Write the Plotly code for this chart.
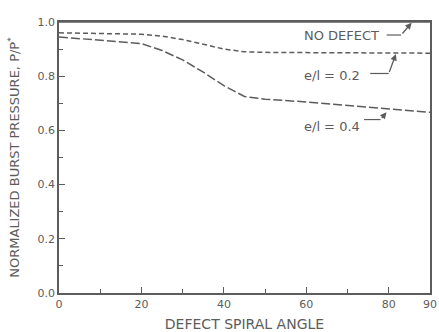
import plotly.graph_objects as go

# Data
angle_nodef = [0, 90]
p_nodef = [1.0, 1.0]

angle_02 = [0, 10, 20, 25, 30, 35, 40, 45, 50, 60, 70, 80, 90]
p_02 = [0.960, 0.958, 0.955, 0.948, 0.935, 0.918, 0.900, 0.890, 0.888, 0.887, 0.886, 0.886, 0.885]

angle_04 = [0, 10, 20, 25, 30, 35, 40, 45, 50, 60, 70, 80, 90]
p_04 = [0.945, 0.932, 0.920, 0.895, 0.860, 0.815, 0.765, 0.725, 0.715, 0.705, 0.693, 0.680, 0.667]

x_ticks = [0, 20, 40, 60, 80, 90]
x_minor = [10, 30, 50, 70]
y_ticks = [0.0, 0.2, 0.4, 0.6, 0.8, 1.0]
y_tick_text = ["0.0", "0.2", "0.4", "0.6", "0.8", "1.0"]

labels = ["NO DEFECT", "e/l = 0.2", "e/l = 0.4"]
label_x = [59.0, 59.0, 59.0]
label_y = [0.952, 0.804, 0.616]
dash_y = [0.952, 0.81, 0.64]
label_end_x = [79.5, 75.5, 74.0]
hook_x = [83.0, 80.0, 78.0]
target_x = [85.7, 81.8, 79.6]
target_y = [1.0, 0.885, 0.670]

ink = "#5c5c5c"
font = "DejaVu Sans"

fig = go.Figure()
fig.add_trace(go.Scatter(x=angle_nodef, y=p_nodef, mode="lines",
                         line=dict(color=ink, width=1.5), showlegend=False))
fig.add_trace(go.Scatter(x=angle_02, y=p_02, mode="lines",
                         line=dict(color=ink, width=1.5, dash="5px,3px"), showlegend=False))
fig.add_trace(go.Scatter(x=angle_04, y=p_04, mode="lines",
                         line=dict(color=ink, width=1.5, dash="9px,3px"), showlegend=False))

annotations = []
shapes = []
for t, lx, ly, dy, ex, hx, tx, ty in zip(labels, label_x, label_y, dash_y, label_end_x,
                                          hook_x, target_x, target_y):
    annotations.append(dict(x=lx, y=ly, xref="x", yref="y", text=t, showarrow=False,
                            xanchor="left", yanchor="middle",
                            font=dict(family=font, size=13, color=ink)))
    shapes.append(dict(type="line", xref="x", yref="y", x0=ex, x1=hx, y0=dy, y1=dy,
                       line=dict(color=ink, width=1.2)))
    annotations.append(dict(x=tx, y=ty, xref="x", yref="y", ax=hx, ay=dy, axref="x", ayref="y",
                            text="", showarrow=True, arrowhead=2, arrowsize=1, arrowwidth=1.3,
                            arrowcolor=ink, standoff=1))

fig.update_layout(
    width=439, height=332,
    margin=dict(l=59, r=9, t=22, b=39, autoexpand=False),
    paper_bgcolor="white", plot_bgcolor="white",
    annotations=annotations, shapes=shapes,
    hovermode=False,
    font=dict(family=font, color=ink, size=11),
    xaxis=dict(range=[0, 90], tickvals=x_ticks, ticktext=[str(v) for v in x_ticks],
               ticks="inside", ticklen=6, tickwidth=1.2, tickcolor=ink,
               minor=dict(tickvals=x_minor, ticks="inside", ticklen=4, tickcolor=ink, tickwidth=1),
               showgrid=False, zeroline=False, showline=True, linecolor=ink, linewidth=1.5,
               mirror=True, automargin=False,
               title=dict(text="DEFECT SPIRAL ANGLE", font=dict(size=14, family=font, color=ink)),
               tickfont=dict(size=11, family=font, color=ink)),
    yaxis=dict(range=[0, 1.0], tickvals=y_ticks, ticktext=y_tick_text,
               ticks="inside", ticklen=6, tickwidth=1.2, tickcolor=ink,
               minor=dict(dtick=0.1, ticks="inside", ticklen=4, tickcolor=ink, tickwidth=1),
               showgrid=False, zeroline=False, showline=True, linecolor=ink, linewidth=1.5,
               mirror=True, automargin=False,
               title=dict(text="NORMALIZED BURST PRESSURE, P/P<sup>*</sup>",
                          font=dict(size=13, family=font, color=ink)),
               tickfont=dict(size=11, family=font, color=ink)),
)

# remove the browser's default 8px body margin so the figure fills the window exactly
fig.write_html("out.html",
               config={"displayModeBar": False},
               post_script="document.body.style.margin='0px';document.body.style.overflow='hidden';")
